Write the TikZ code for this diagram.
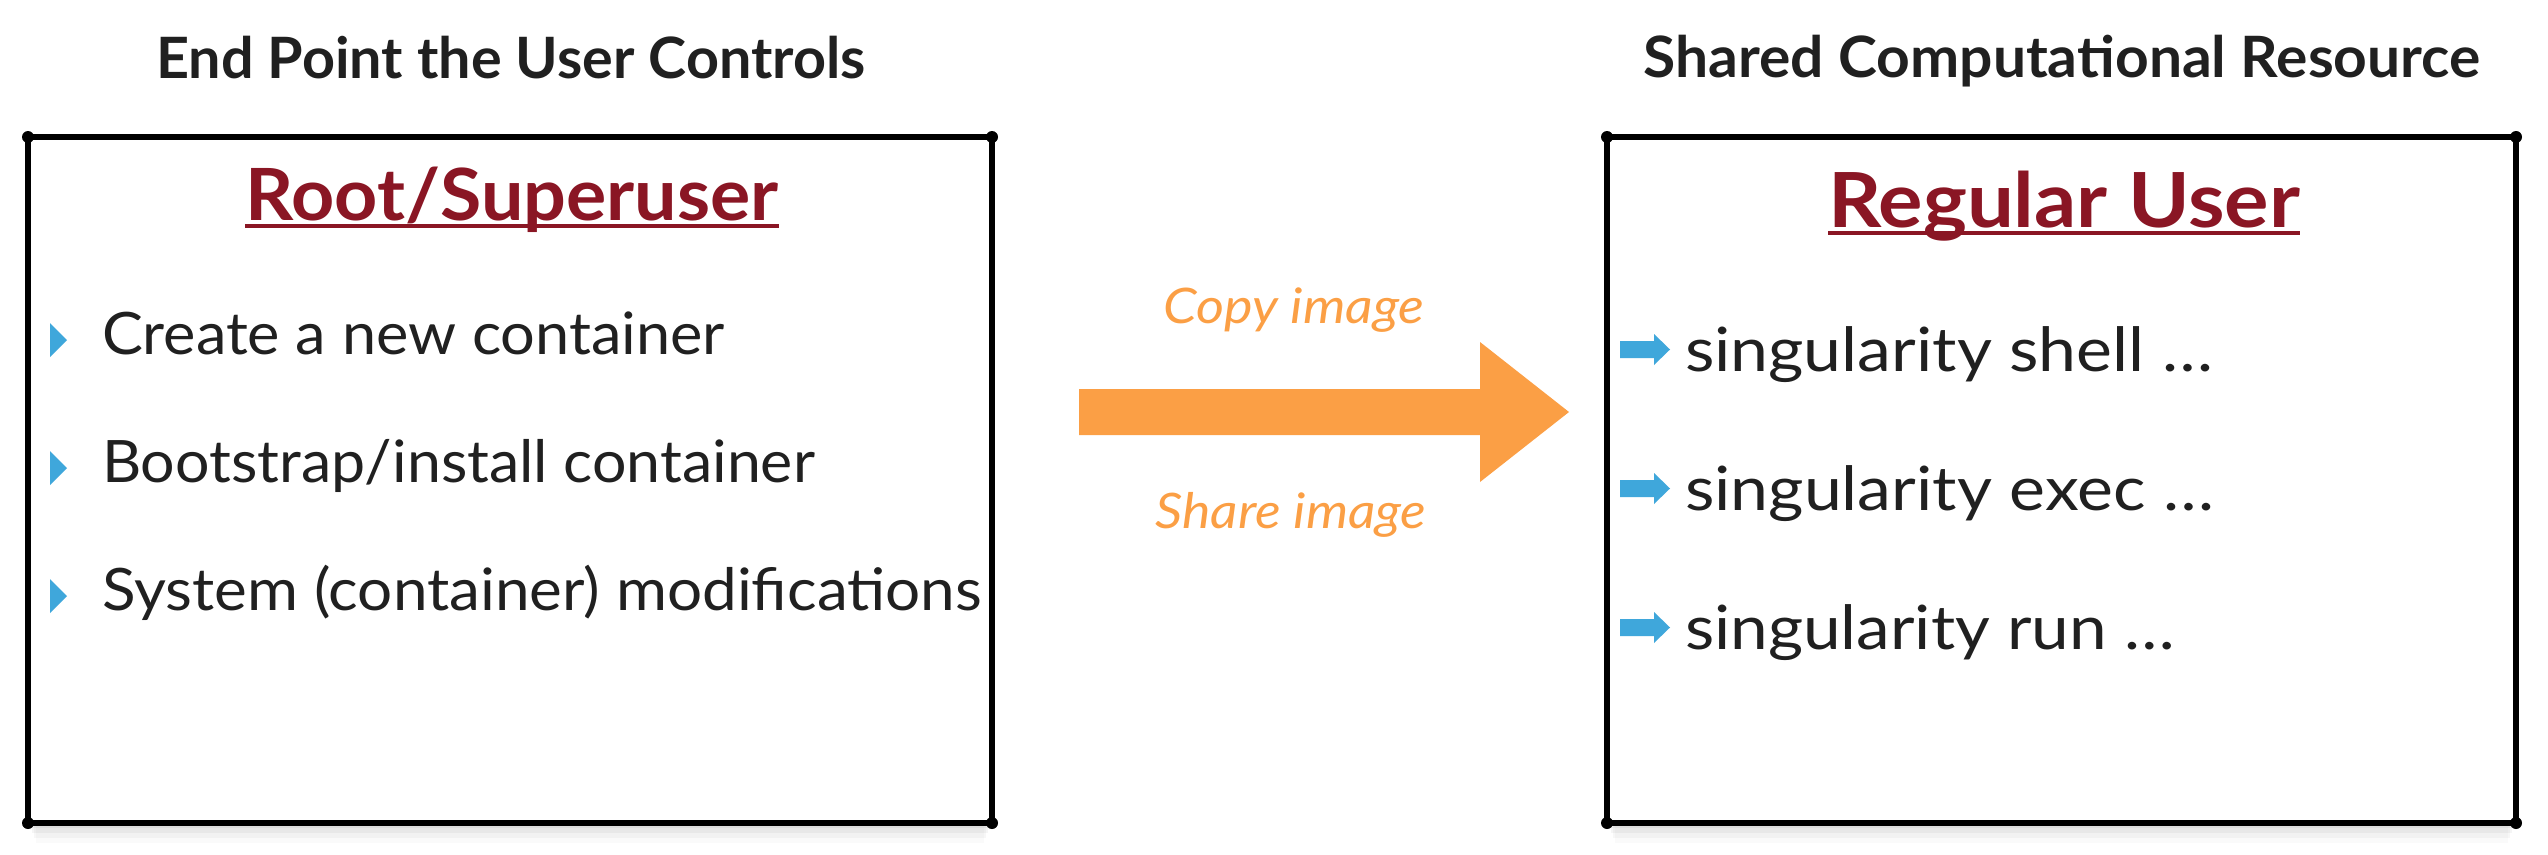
\documentclass[tikz,border=0pt]{standalone}
\usepackage{fontspec}
\usepackage{graphicx}
\setmainfont{Lato}
\definecolor{ink}{RGB}{32,32,32}
\definecolor{maroon}{RGB}{138,22,36}
\definecolor{orng}{RGB}{251,159,69}
\definecolor{bulletblue}{RGB}{63,167,219}
\newcommand{\fitw}[2]{\resizebox{#1}{\height}{#2}}
\begin{document}
\begin{tikzpicture}[x=1pt,y=-1pt,
  every node/.style={inner sep=0pt, outer sep=0pt},
  heading/.style={anchor=base, text=ink, font=\fontsize{57}{60}\selectfont\bfseries},
  role/.style={anchor=base, text=maroon, font=\fontsize{#1}{80}\selectfont\bfseries},
  leftitem/.style={anchor=base west, text=ink, font=\fontsize{58.5}{62}\selectfont},
  rightitem/.style={anchor=base west, text=ink, font=\fontsize{61}{64}\selectfont},
  flowlabel/.style={anchor=base, text=orng, font=\fontsize{49}{52}\selectfont\itshape},
  panel/.style={draw=black, line width=6.5pt, line join=round, fill=white},
  rule/.style={draw=maroon, line width=4pt},
  tri/.style={fill=bulletblue},
  bigarrow/.style={fill=orng}
]
\useasboundingbox (0,0) rectangle (2548,854);

% headings
\node[heading] (hl) at (511,78) {\fitw{709pt}{End Point the User Controls}};
\node[heading] (hr) at (2062,77) {\fitw{837pt}{Shared Computational Resource}};

% soft shadows under the panels
\foreach \k/\op in {1/0.05,2/0.04,3/0.03,4/0.02}{
  \fill[black, opacity=\op] (28+\k*2,823) rectangle (992-\k*2,823+\k*5);
  \fill[black, opacity=\op] (1607+\k*2,823) rectangle (2516-\k*2,823+\k*5);
}

% panels
\node[panel, minimum width=964pt, minimum height=686pt] (lbox) at (510,480) {};
\node[panel, minimum width=909pt, minimum height=686pt] (rbox) at (2061.5,480) {};
\foreach \b in {lbox,rbox}{
  \foreach \c in {north west,north east,south west,south east}{
    \fill (\b.\c) circle (6);
  }
}

% roles
\node[role=72] (rs) at (512,220) {\fitw{533pt}{Root/Superuser}};
\draw[rule] ([yshift=-6pt]rs.base west) -- ([yshift=-6pt]rs.base east);
\node[role=76] (ru) at (2064,227) {\fitw{472pt}{Regular User}};
\draw[rule] ([yshift=-6pt]ru.base west) -- ([yshift=-6pt]ru.base east);

% left items
\node[leftitem] (l1) at (102,354) {\fitw{623pt}{Create a new container}};
\node[leftitem] (l2) at (102,482) {\fitw{713pt}{Bootstrap/install container}};
\node[leftitem] (l3) at (102,610) {\fitw{880pt}{System (container) modifications}};
\foreach \n in {l1,l2,l3}{
  \fill[tri] ([xshift=-52pt,yshift=31pt]\n.base west) -- ++(17pt,-17pt) -- ++(-17pt,-17pt) -- cycle;
}

% right items
\node[rightitem] (r1) at (1685,371) {\fitw{528pt}{singularity shell \dots}};
\node[rightitem] (r2) at (1685,510) {\fitw{529pt}{singularity exec \dots}};
\node[rightitem] (r3) at (1685,649) {\fitw{490pt}{singularity run \dots}};
\foreach \n in {r1,r2,r3}{
  \fill[tri] ([xshift=-65pt,yshift=13pt]\n.base west) -- ++(34pt,0) -- ++(0,-7pt) -- ++(16pt,15.5pt) -- ++(-16pt,15.5pt) -- ++(0,-7pt) -- ++(-34pt,0) -- cycle;
}

% transfer arrow
\coordinate (atail) at (1079,412);
\coordinate (atip) at (1569,412);
\fill[bigarrow] ([yshift=23pt]atail) -- ([xshift=-89pt,yshift=23pt]atip) -- ([xshift=-89pt,yshift=70pt]atip) -- (atip) -- ([xshift=-89pt,yshift=-70pt]atip) -- ([xshift=-89pt,yshift=-23pt]atip) -- ([yshift=-23pt]atail) -- cycle;
\node[flowlabel] (cp) at (1294,323) {\fitw{261pt}{Copy image}};
\node[flowlabel] (sh) at (1291,528) {\fitw{271pt}{Share image}};
\end{tikzpicture}
\end{document}
